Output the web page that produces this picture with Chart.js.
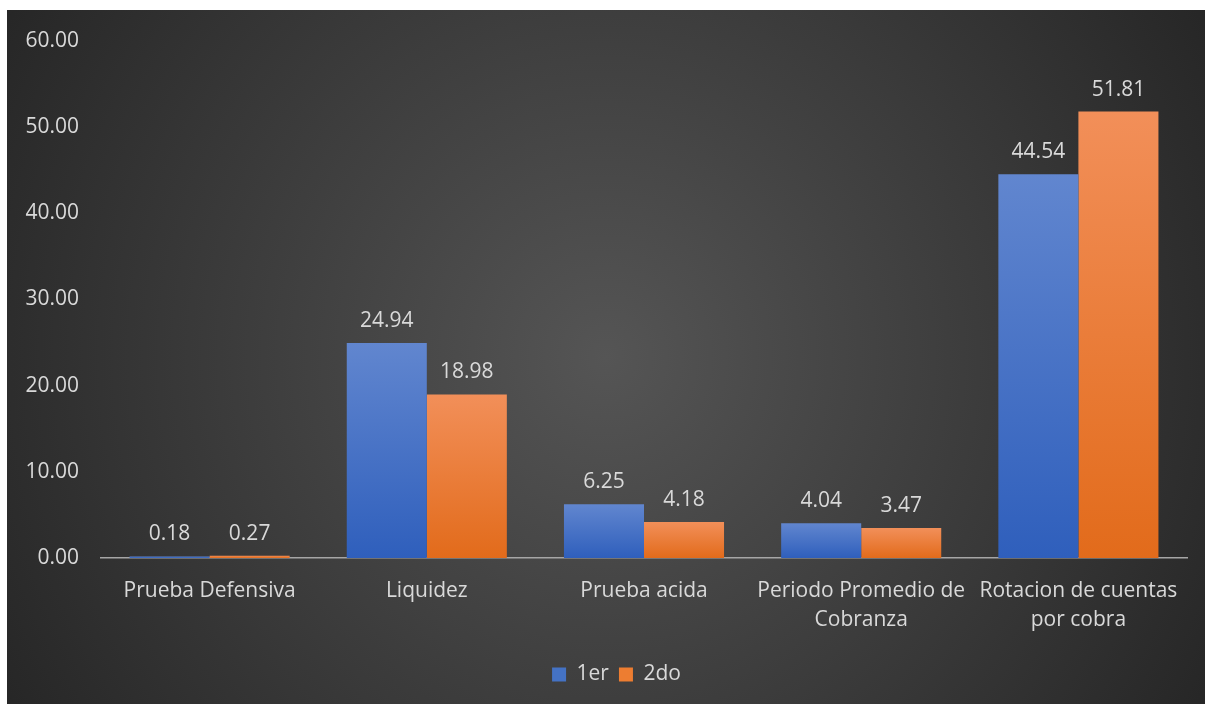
<!DOCTYPE html>
<html>
<head>
<meta charset="utf-8">
<script src="https://cdn.jsdelivr.net/npm/chart.js@4.4.1/dist/chart.umd.min.js"></script>
<style>
  html, body { margin: 0; padding: 0; background: #ffffff; overflow: hidden; }
  #wrap { position: absolute; left: 0; top: 0; width: 1205px; height: 704px; }
</style>
</head>
<body>
<div id="wrap"><canvas id="c" width="1205" height="704"></canvas></div>
<script>
const categories = [
  'Prueba Defensiva',
  'Liquidez',
  'Prueba acida',
  ['Periodo Promedio de', 'Cobranza'],
  ['Rotacion de cuentas', 'por cobra']
];
const seriesNames = ['1er', '2do'];
const serie1 = [0.18, 24.94, 6.25, 4.04, 44.54];
const serie2 = [0.27, 18.98, 4.18, 3.47, 51.81];
const yTicks = [0, 10, 20, 30, 40, 50, 60];

const TEXT = '#d9d9d9';
const FONT = 'Open Sans';

function barGradient(top, bottom) {
  return function (ctx) {
    const chart = ctx.chart;
    const area = chart.chartArea;
    if (!area || ctx.type !== 'data') return bottom;
    const ys = chart.scales.y;
    const yTop = ys.getPixelForValue(ctx.raw);
    const yBase = ys.getPixelForValue(0);
    if (!isFinite(yTop) || Math.abs(yBase - yTop) < 0.5) return top;
    const g = chart.ctx.createLinearGradient(0, yTop, 0, yBase);
    g.addColorStop(0, top);
    g.addColorStop(1, bottom);
    return g;
  };
}

const bgPlugin = {
  id: 'bg',
  beforeDraw(chart) {
    const c = chart.ctx;
    const W = chart.width, H = chart.height;
    c.save();
    c.fillStyle = '#ffffff';
    c.fillRect(0, 0, W, H);
    const x0 = 7, y0 = 10;
    const cx = (x0 + W) / 2, cy = (y0 + H) / 2;
    const g = c.createRadialGradient(cx, cy, 0, cx, cy, 700);
    g.addColorStop(0, '#555555');
    g.addColorStop(1, '#262626');
    c.fillStyle = g;
    c.fillRect(x0, y0, W - x0, H - y0);
    c.restore();
  }
};

const legendShift = {
  id: 'legendShift',
  afterLayout(chart) {
    if (chart.legend) {
      chart.legend.left += 23;
      chart.legend.right += 23;
    }
  }
};

const labelPlugin = {
  id: 'valueLabels',
  afterDatasetsDraw(chart) {
    const c = chart.ctx;
    c.save();
    c.font = '21px "' + FONT + '"';
    c.fillStyle = TEXT;
    c.textAlign = 'center';
    c.textBaseline = 'alphabetic';
    chart.data.datasets.forEach((ds, i) => {
      const meta = chart.getDatasetMeta(i);
      meta.data.forEach((el, j) => {
        c.fillText(ds.data[j].toFixed(2), el.x, el.y - 16);
      });
    });
    c.restore();
  }
};

const solidColors = ['#4472c4', '#ed7d31'];

new Chart(document.getElementById('c'), {
  type: 'bar',
  data: {
    labels: categories,
    datasets: [
      { label: seriesNames[0], data: serie1, backgroundColor: barGradient('#6186cf', '#2f5fbc'),
        categoryPercentage: 0.737, barPercentage: 1 },
      { label: seriesNames[1], data: serie2, backgroundColor: barGradient('#f28f59', '#e26b1b'),
        categoryPercentage: 0.737, barPercentage: 1 }
    ]
  },
  options: {
    responsive: false,
    animation: false,
    devicePixelRatio: 1,
    layout: { padding: { left: 0, right: 18, top: 41, bottom: 9 } },
    font: { family: FONT },
    scales: {
      x: {
        grid: { display: false, drawTicks: false },
        border: { display: true, color: '#a6a6a6', width: 1.5 },
        ticks: { color: TEXT, font: { family: FONT, size: 21, lineHeight: 1.38 }, padding: 19,
                 maxRotation: 0, autoSkip: false },
        afterFit(scale) { scale.height = 96; }
      },
      y: {
        min: 0, max: 60,
        grid: { display: false, drawTicks: false },
        border: { display: false },
        afterBuildTicks(scale) { scale.ticks = yTicks.map(v => ({ value: v })); },
        ticks: { color: TEXT, font: { family: FONT, size: 21 }, padding: 22,
                 callback: v => Number(v).toFixed(2) },
        afterFit(scale) { scale.width = 101; }
      }
    },
    plugins: {
      tooltip: { enabled: false },
      legend: {
        position: 'bottom',
        labels: {
          color: TEXT,
          font: { family: FONT, size: 21 },
          boxWidth: 14, boxHeight: 14, padding: 10,
          generateLabels(chart) {
            return chart.data.datasets.map((ds, i) => ({
              text: ds.label, fillStyle: solidColors[i], strokeStyle: solidColors[i],
              lineWidth: 0, hidden: false, datasetIndex: i, fontColor: TEXT
            }));
          }
        }
      }
    }
  },
  plugins: [bgPlugin, legendShift, labelPlugin]
});
</script>
</body>
</html>
